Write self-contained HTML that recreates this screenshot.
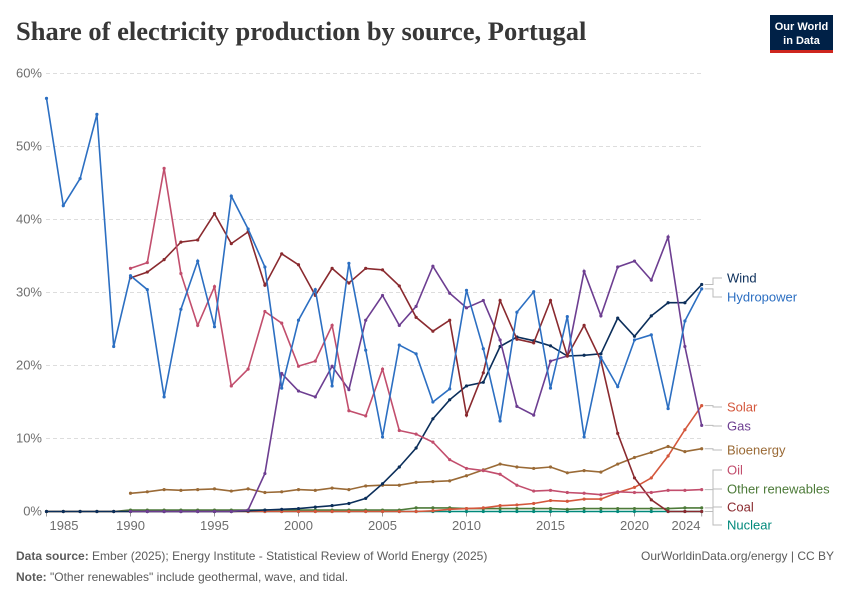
<!DOCTYPE html>
<html><head><meta charset="utf-8"><style>
body{margin:0;background:#fff;font-family:"Liberation Sans",sans-serif}
svg text{font-family:"Liberation Sans",sans-serif}
</style></head><body>
<svg id="chart" width="850" height="600" xmlns="http://www.w3.org/2000/svg">
<text x="16" y="40" font-weight="bold" font-size="26.5" fill="#373737" style="font-family:'Liberation Serif',serif">Share of electricity production by source, Portugal</text>
<g>
<rect x="770" y="15" width="63" height="36" fill="#002147"/>
<rect x="770" y="50" width="63" height="3" fill="#ce261e"/>
<text x="801.5" y="30" font-size="11" font-weight="bold" fill="#fff" text-anchor="middle">Our World</text>
<text x="801.5" y="44" font-size="11" font-weight="bold" fill="#fff" text-anchor="middle">in Data</text>
</g>
<g id="grid"></g><g id="xaxis"></g><g id="series"></g><g id="legend"></g>
<text x="16" y="560" font-size="12" fill="#5b5b5b"><tspan font-weight="bold">Data source:</tspan> Ember (2025); Energy Institute - Statistical Review of World Energy (2025)</text>
<text x="834" y="560" font-size="12" fill="#5b5b5b" text-anchor="end">OurWorldinData.org/energy | CC BY</text>
<text x="16" y="581" font-size="12" fill="#5b5b5b"><tspan font-weight="bold">Note:</tspan> "Other renewables" include geothermal, wave, and tidal.</text>
</svg>
<script>
const years=[];for(let y=1985;y<=2024;y++)years.push(y);
const yTicks=[0,10,20,30,40,50,60];
const xTicks=[1985,1990,1995,2000,2005,2010,2015,2020,2024];
const hydro=[56.6,41.9,45.6,54.4,22.6,32.3,30.4,15.7,27.7,34.3,25.3,43.2,38.7,33.5,16.9,26.2,30.4,17.2,34.0,22.1,10.2,22.8,21.6,15.0,16.8,30.3,22.3,12.4,27.3,30.1,16.9,26.7,10.2,21.1,17.1,23.5,24.2,14.1,26.1,30.5];
const oil=[null,null,null,null,null,33.3,34.1,47.0,32.6,25.5,30.8,17.2,19.5,27.4,25.8,19.9,20.6,25.5,13.8,13.1,19.5,11.1,10.6,9.5,7.1,5.9,5.6,5.1,3.6,2.8,2.9,2.6,2.5,2.3,2.7,2.6,2.6,2.9,2.9,3.0];
const coal=[null,null,null,null,null,32.0,32.8,34.5,36.9,37.2,40.8,36.7,38.3,31.0,35.3,33.8,29.6,33.3,31.3,33.3,33.1,30.9,26.6,24.7,26.2,13.2,19.0,28.9,23.6,23.1,28.9,21.3,25.5,20.7,10.7,4.6,1.6,0,0,0];
const gas=[null,null,null,null,null,0,0,0,0,0,0,0,0.2,5.2,18.9,16.5,15.7,19.9,16.7,26.2,29.6,25.5,28.1,33.6,29.9,27.9,28.9,23.5,14.4,13.2,20.6,21.3,32.9,26.8,33.5,34.3,31.7,37.6,22.6,11.8];
const wind=[0,0,0,0,0,0,0,0,0,0,0,0,0.1,0.2,0.3,0.4,0.6,0.8,1.1,1.8,3.8,6.1,8.7,12.7,15.3,17.2,17.7,22.6,23.9,23.4,22.7,21.3,21.4,21.6,26.5,24.0,26.8,28.6,28.6,31.1];
const bio=[null,null,null,null,null,2.5,2.7,3.0,2.9,3.0,3.1,2.8,3.1,2.6,2.7,3.0,2.9,3.2,3.0,3.5,3.6,3.6,4.0,4.1,4.2,4.9,5.7,6.5,6.1,5.9,6.1,5.3,5.6,5.4,6.5,7.4,8.1,8.9,8.2,8.6];
const solar=[0,0,0,0,0,0,0,0,0,0,0,0,0,0,0,0,0,0,0,0,0,0,0,0.1,0.3,0.4,0.5,0.8,0.9,1.1,1.5,1.4,1.7,1.7,2.6,3.3,4.6,7.6,11.2,14.5];
const otherRen=[0,0,0,0,0,0.2,0.2,0.2,0.2,0.2,0.2,0.2,0.2,0.2,0.2,0.2,0.2,0.2,0.2,0.2,0.2,0.2,0.5,0.5,0.5,0.4,0.4,0.4,0.4,0.4,0.4,0.3,0.4,0.4,0.4,0.4,0.4,0.4,0.5,0.5];
const nuclear=years.map(()=>0);
const seriesList=[
 {name:'Nuclear',data:nuclear,color:'#00897b',ly:525},
 {name:'Other renewables',data:otherRen,color:'#4c7a38',ly:489},
 {name:'Solar',data:solar,color:'#d4573c',ly:407},
 {name:'Bioenergy',data:bio,color:'#9a6a36',ly:450},
 {name:'Wind',data:wind,color:'#0b2e5a',ly:278},
 {name:'Gas',data:gas,color:'#6d3e91',ly:426},
 {name:'Coal',data:coal,color:'#8a2a2f',ly:507},
 {name:'Oil',data:oil,color:'#c24e6d',ly:470},
 {name:'Hydropower',data:hydro,color:'#2c6fc2',ly:297}
];
const NS='http://www.w3.org/2000/svg';
const X=y=>46.5+(y-1985)*16.8;
const Y=v=>511.5-v*7.3;
function mk(t,a,p){const e=document.createElementNS(NS,t);for(const k in a)e.setAttribute(k,a[k]);p.appendChild(e);return e;}
const grid=document.getElementById('grid');
yTicks.forEach(t=>{
 const l=mk('line',{x1:46,x2:702,y1:Y(t),y2:Y(t),stroke:'#ddd','stroke-dasharray':t===0?'':'4,3'},grid);
 
 
 const tx=mk('text',{x:42,y:Y(t)+4,'font-size':13,fill:'#6e6e6e','text-anchor':'end'},grid);tx.textContent=t+'%';
 
 
});
mk('line',{x1:46,x2:702,y1:Y(0),y2:Y(0),stroke:'#999'},grid);
const xa=document.getElementById('xaxis');
xTicks.forEach(t=>{
 let x=X(t); if(t===1985)x=64; if(t===2024)x=686;
 mk('line',{x1:X(t),x2:X(t),y1:Y(0),y2:Y(0)+5,stroke:'#999'},xa);
 const tx=mk('text',{x:x,y:530,'font-size':13,fill:'#6e6e6e','text-anchor':'middle'},xa);tx.textContent=t;
 
 
});
const sg=document.getElementById('series');const lg=document.getElementById('legend');
seriesList.forEach(s=>{
 const g=mk('g',{},sg);
 
 
 let d='',pen=false,last=null;
 s.data.forEach((v,i)=>{if(v===null){pen=false;return;}d+=(pen?'L':'M')+X(years[i]).toFixed(1)+','+Y(v).toFixed(1);pen=true;last=[X(years[i]),Y(v)];});
 mk('path',{d:d,fill:'none',stroke:s.color,'stroke-width':1.6},g);
 s.data.forEach((v,i)=>{if(v===null)return;
  const c=mk('circle',{cx:X(years[i]),cy:Y(v),r:1.6,fill:s.color},g);
  
  
 });
 const lx=727;
 mk('path',{d:`M${last[0]+3},${last[1]} H713 V${s.ly} H722`,fill:'none',stroke:'#bbb','stroke-width':1},lg);
 const t=mk('text',{x:lx,y:s.ly+4.5,'font-size':13,fill:s.color},lg);t.textContent=s.name;
 
 
});
</script>
</body></html>
